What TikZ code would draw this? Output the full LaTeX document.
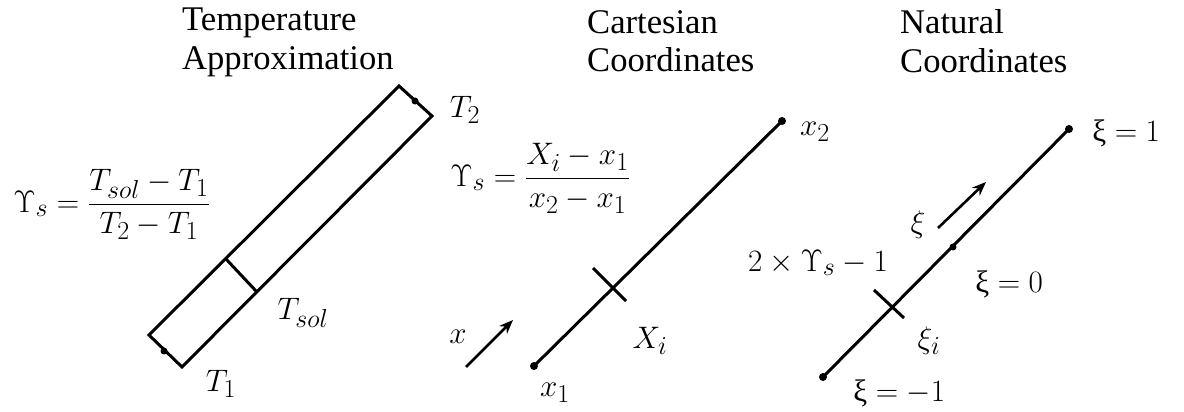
\documentclass[tikz,border=0pt]{standalone}
\usepackage{fontspec}
\setmainfont{Liberation Serif}
\usetikzlibrary{arrows.meta}
\newcommand\uxi{\textrm{ξ}}
\tikzset{
  ttl/.style={anchor=base west, align=left, font=\fontsize{34.6}{39}\selectfont, inner sep=0pt},
  lbl/.style={font=\fontsize{24.88}{30}\selectfont, inner sep=0pt, scale=1.25, transform shape},
  bar/.style={line width=3pt},
  tickmark/.style={line width=3pt},
  dotp/.style={circle, fill, inner sep=0pt, minimum size=8pt},
  smalldot/.style={circle, fill, inner sep=0pt, minimum size=7pt},
  dirarrow/.style={line width=2.6pt, -{Stealth[length=14pt, width=11pt]}},
}
\begin{document}
\begin{tikzpicture}[x=1pt, y=-1pt]
\useasboundingbox (0,0) rectangle (1184,412);

% ---------- titles ----------
\node[ttl] (t1) at (182,70) {Temperature\\Approximation};
\node[ttl] (t2) at (587,72) {Cartesian\\Coordinates};
\node[ttl] (t3) at (900,73) {Natural\\Coordinates};

% ---------- temperature approximation ----------
\coordinate (A) at (149,335);
\coordinate (B) at (182,367);
\coordinate (C) at (432,116);
\coordinate (D) at (399,86);
\draw[bar, line join=miter] (A) -- (B) -- (C) -- (D) -- cycle;
\coordinate (S1) at (226,259);
\coordinate (S2) at (256,291);
\draw[bar] (S1) -- (S2);
\node[smalldot] (dT2) at (415,101) {};
\node[smalldot] (dT1) at (164,351) {};

\node[lbl] (lT2) at (465,110) {$T_2$};
\node[lbl] (lTsol) at (303,313) {$T_{sol}$};
\node[lbl] (lT1) at (221,384) {$T_1$};
\node[lbl, anchor=base west] (f1) at (13,212) {$\displaystyle \Upsilon_s=\frac{T_{sol}-T_1}{T_2-T_1}$};

% ---------- cartesian coordinates ----------
\node[dotp] (x1) at (534,366) {};
\node[dotp] (x2) at (782,121) {};
\draw[bar] (x1.center) -- (x2.center);
\coordinate (Xa) at (593,268);
\coordinate (Xb) at (626,301);
\draw[tickmark] (Xa) -- (Xb);
\coordinate (xa0) at (466,367);
\coordinate (xa1) at (513,320);
\draw[dirarrow] (xa0) -- (xa1);

\node[lbl] (lx2) at (815,132) {$x_2$};
\node[lbl] (lx1) at (555,393) {$x_1$};
\node[lbl] (lXi) at (650,341) {$X_i$};
\node[lbl] (lx) at (458,337) {$x$};
\node[lbl, anchor=base west] (f2) at (450,186) {$\displaystyle \Upsilon_s=\frac{X_i-x_1}{x_2-x_1}$};

% ---------- natural coordinates ----------
\node[dotp] (n1) at (823,377) {};
\node[dotp] (n2) at (1069,129) {};
\draw[bar] (n1.center) -- (n2.center);
\node[smalldot] (n0) at (953,247) {};
\coordinate (Na) at (874,290);
\coordinate (Nb) at (904,318);
\draw[tickmark] (Na) -- (Nb);
\coordinate (na0) at (938,228);
\coordinate (na1) at (986,182);
\draw[dirarrow] (na0) -- (na1);

\node[lbl, anchor=west] (lxi1) at (1092,133) {$\uxi=1$};
\node[lbl, anchor=west] (lxi0) at (975,284) {$\uxi=0$};
\node[lbl, anchor=west] (lxim) at (853,393) {$\uxi=-1$};
\node[lbl] (lxii) at (929,341) {$\xi_i$};
\node[lbl] (lxi) at (918,225) {$\xi$};
\node[lbl] (lmap) at (818,263) {$2\times\Upsilon_s-1$};
\end{tikzpicture}
\end{document}
